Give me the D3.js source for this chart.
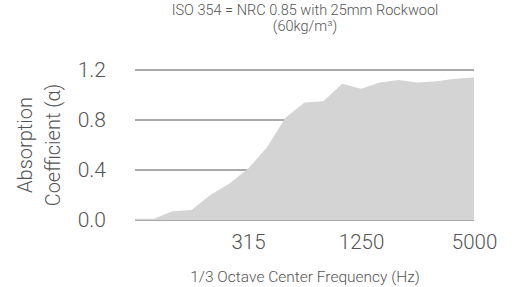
<!DOCTYPE html>
<html>
<head>
<meta charset="utf-8">
<script src="https://cdn.jsdelivr.net/npm/d3@7"></script>
<style>
  body { margin: 0; background: #fff; }
  text { font-family: Roboto, "Liberation Sans", sans-serif; font-weight: 300; fill: #555; }
</style>
</head>
<body>
<svg id="canvas"></svg>
<script>
var w = 516
var h = 287

// ########## Data ##########
var freqs = [80, 100, 125, 160, 200, 250, 315, 400, 500, 630, 800, 1000, 1250, 1600, 2000, 2500, 3150, 4000, 5000];
var alpha = [0.01, 0.01, 0.07, 0.08, 0.20, 0.29, 0.41, 0.58, 0.82, 0.94, 0.95, 1.09, 1.05, 1.10, 1.12, 1.10, 1.11, 1.13, 1.14];
var xTickLabels = [315, 1250, 5000];
var yTickValues = [0.0, 0.4, 0.8, 1.2];

var margin = { top: 70, right: 42, bottom: 67, left: 135 };

var svg = d3.select("#canvas")
    .attr("width", w)
    .attr("height", h);

var x = d3.scalePoint()
    .domain(freqs)
    .range([margin.left, w - margin.right]);

var y = d3.scaleLinear()
    .domain([0, 1.2])
    .range([h - margin.bottom, margin.top]);

// ########## Grid ##########
svg.append("g")
    .selectAll("line")
    .data(yTickValues).enter()
    .append("line")
    .attr("x1", margin.left)
    .attr("x2", w - margin.right)
    .attr("y1", function (d) { return y(d); })
    .attr("y2", function (d) { return y(d); })
    .attr("stroke", "#555")
    .attr("stroke-width", 1);

// ########## Area ##########
var area = d3.area()
    .x(function (d, i) { return x(freqs[i]); })
    .y0(y(0))
    .y1(function (d) { return y(d); });

svg.append("path")
    .datum(alpha)
    .attr("d", area)
    .attr("fill", "#d4d4d4");

// ########## Axes ##########
var yAxis = d3.axisLeft(y)
    .tickValues(yTickValues)
    .tickFormat(d3.format(".1f"))
    .tickSize(0)
    .tickPadding(29);

svg.append("g")
    .attr("transform", "translate(" + margin.left + ",0)")
    .call(yAxis)
    .call(function (g) { g.select(".domain").remove(); })
    .selectAll("text")
    .attr("font-size", 21)
    .style("font-family", null);

var xAxis = d3.axisBottom(x)
    .tickValues(xTickLabels)
    .tickSize(0)
    .tickPadding(14);

svg.append("g")
    .attr("transform", "translate(0," + y(0) + ")")
    .call(xAxis)
    .call(function (g) { g.select(".domain").remove(); })
    .selectAll("text")
    .attr("font-size", 20.5)
    .style("font-family", null);

// ########## Titles ##########
svg.append("text")
    .attr("x", 305)
    .attr("y", 15)
    .attr("text-anchor", "middle")
    .attr("font-size", 14.5)
    .text("ISO 354 = NRC 0.85 with 25mm Rockwool");

svg.append("text")
    .attr("x", 305)
    .attr("y", 31)
    .attr("text-anchor", "middle")
    .attr("font-size", 14.5)
    .text("(60kg/m³)");

svg.append("text")
    .attr("x", 305)
    .attr("y", 282)
    .attr("text-anchor", "middle")
    .attr("font-size", 15.5)
    .text("1/3 Octave Center Frequency (Hz)");

var yTitle = svg.append("text")
    .attr("transform", "translate(0,145) rotate(-90)")
    .attr("text-anchor", "middle")
    .attr("font-size", 20);

yTitle.append("tspan")
    .attr("x", 0)
    .attr("y", 32)
    .text("Absorption");

yTitle.append("tspan")
    .attr("x", 0)
    .attr("y", 60)
    .text("Coefficient (α)");
</script>
</body>
</html>
